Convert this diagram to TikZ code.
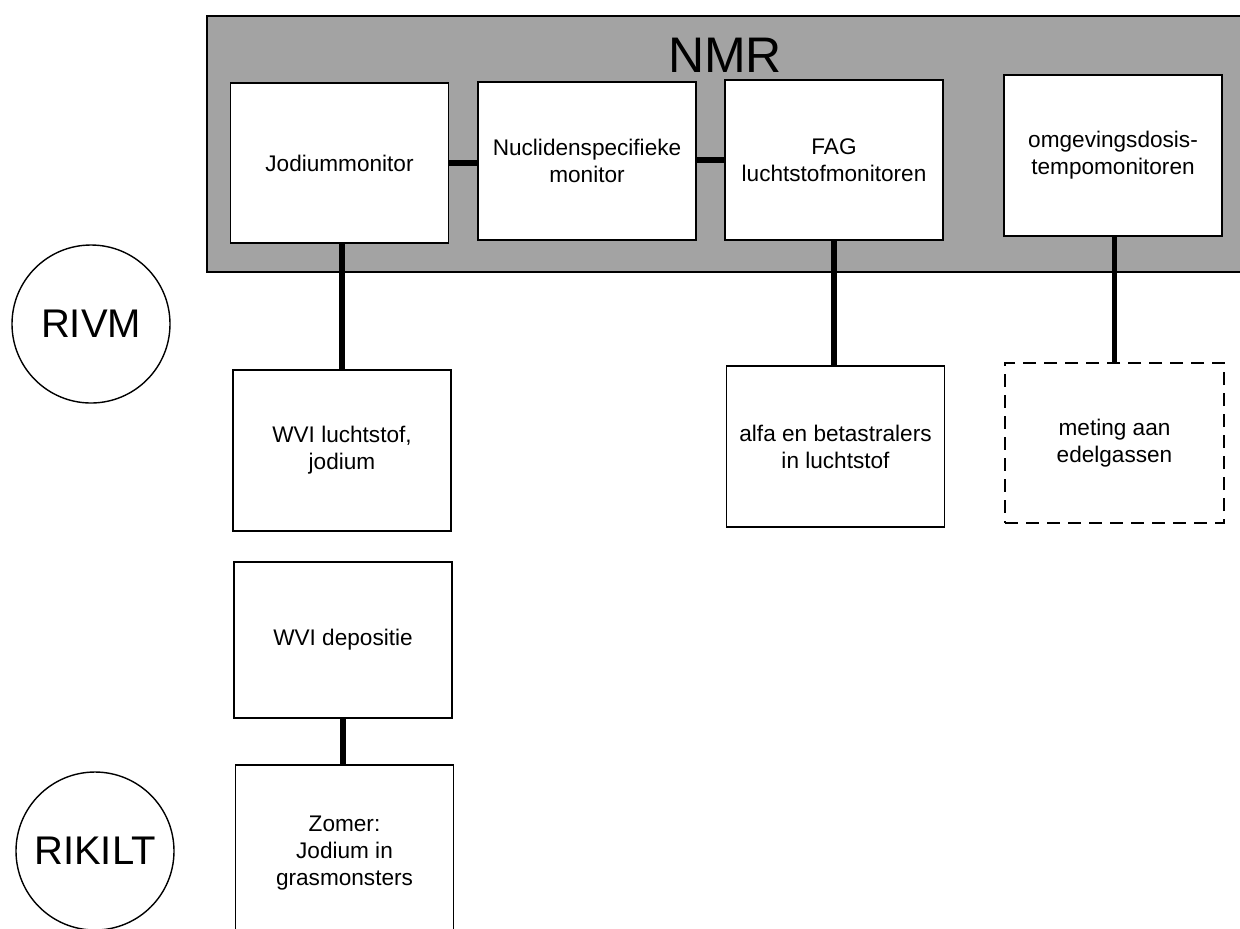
\documentclass[tikz,border=0pt]{standalone}
\usepackage{fontspec}
\setmainfont{Liberation Sans}
\usetikzlibrary{positioning}

\begin{document}
\begin{tikzpicture}[x=0.5pt, y=-0.5pt,
    meetbox/.style={draw, line width=0.8pt, fill=white, align=center, inner sep=0pt,
        minimum width=109pt, minimum height=80pt, font=\fontsize{11.3}{13.5}\selectfont},
    losbox/.style={meetbox, dash pattern=on 6.5pt off 4pt},
    org/.style={draw, circle, line width=0.7pt, minimum size=79pt, inner sep=0pt,
        font=\fontsize{20}{24}\selectfont},
    link/.style={line width=2.6pt}]
    \useasboundingbox (0,0) rectangle (1240,928);
    \clip (0,0) rectangle (1240,928);

    % NMR strook
    \draw[line width=1pt, fill=black!36] (207,16) rectangle (1260,272);
    \node (nmr) at (725,55) {\fontsize{25}{30}\selectfont NMR};

    \node[meetbox, minimum height=80pt] (jod) at (339.5,163) {Jodiummonitor};
    \node[meetbox, minimum height=79pt] (nuc) at (587,161) {Nuclidenspecifieke\\monitor};
    \node[meetbox] (fag) at (834,160) {FAG\\luchtstofmonitoren};
    \node[meetbox, minimum height=80.5pt] (omg) at (1113,155.5) {omgevingsdosis-\\tempomonitoren};

    \node[meetbox, minimum height=80.5pt] (wvil) at (342,450.5) {WVI luchtstof,\\jodium};
    \node[meetbox, minimum height=80.5pt] (alfa) at (835.5,446.5) {alfa en betastralers\\in luchtstof};
    \node[losbox, minimum width=109.5pt] (met) at (1114.5,443) {meting aan\\edelgassen};
    \node[meetbox, minimum height=78pt] (wvid) at (343,640) {WVI depositie};
    \node[meetbox, minimum height=88pt] (zom) at (344.5,853) {Zomer:\\Jodium in\\grasmonsters};

    \node[org] (rivm) at (91,324) {RIVM};
    \node[org] (rikilt) at (95,851) {RIKILT};

    \draw[link] (jod.east) -- (jod.east -| nuc.west);
    \draw[link] (fag.west -| nuc.east) -- (fag.west);
    \draw[link] (wvil.north |- jod.south) -- (wvil.north);
    \draw[link] (fag.south) -- (fag.south |- alfa.north);
    \draw[link] (omg.south -| met.north) -- (met.north);
    \draw[link] (wvid.south) -- (wvid.south |- zom.north);
\end{tikzpicture}
\end{document}
